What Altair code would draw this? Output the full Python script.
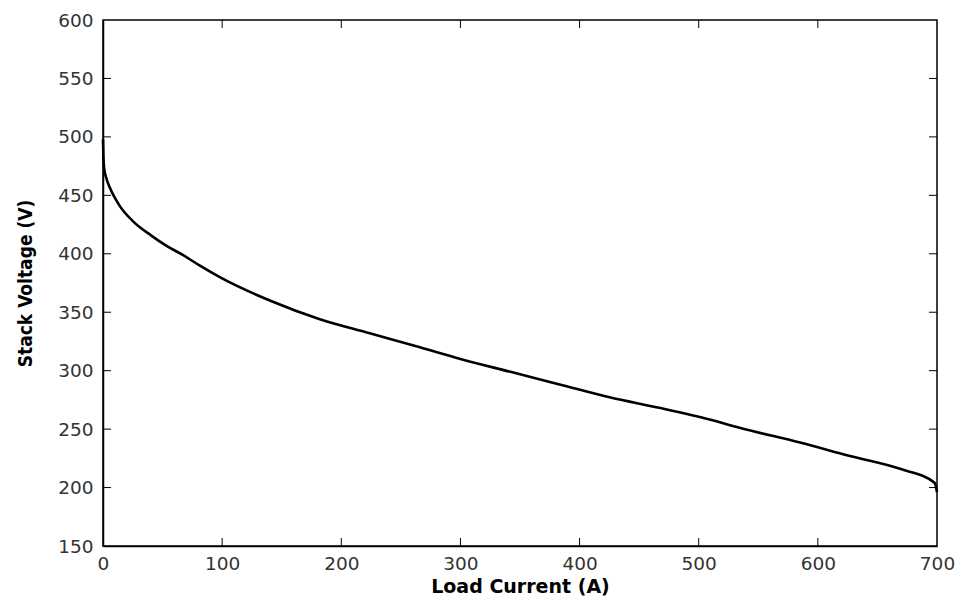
import altair as alt
import pandas as pd

# Load current (A) and stack voltage (V)
current = [0, 0.3, 1, 3, 6, 14, 25, 40, 53, 67, 81, 98, 140, 182, 224, 266,
           300, 342, 384, 426, 468, 510, 535, 585, 627, 669, 698, 700]
voltage = [498, 485, 473, 464, 456, 441, 428, 416, 407, 399, 390, 380, 360,
           344, 332, 320, 310, 299, 288, 277, 268, 258, 251, 238.5, 227, 216, 204, 196]

x_tick_values = [0, 100, 200, 300, 400, 500, 600, 700]
y_tick_values = [150, 200, 250, 300, 350, 400, 450, 500, 550, 600]
x_inner_ticks = [100, 200, 300, 400, 500, 600]
y_inner_ticks = [200, 250, 300, 350, 400, 450, 500, 550]

W, H = 834, 526
TICK = 8

df = pd.DataFrame({"I": current, "V": voltage})
dfx = pd.DataFrame({"I": x_inner_ticks})
dfy = pd.DataFrame({"V": y_inner_ticks})

xscale = alt.Scale(domain=[0, 700], nice=False, zero=False)
yscale = alt.Scale(domain=[150, 600], nice=False, zero=False)

label_font = "DejaVu Sans"

xaxis = alt.Axis(values=x_tick_values, tickSize=0, grid=False, labelFlush=False,
                 labelFont=label_font, labelFontSize=18.5, labelColor="#333333",
                 labelPadding=8, domainColor="black", domainWidth=1.5,
                 title="Load Current (A)", titleFont="DejaVu Sans",
                 titleFontSize=19, titleFontWeight="bold", titleColor="black",
                 titlePadding=5)
yaxis = alt.Axis(values=y_tick_values, tickSize=0, grid=False, labelFlush=False,
                 labelFont=label_font, labelFontSize=18.5, labelColor="#333333",
                 labelPadding=10, domainColor="black", domainWidth=1.5,
                 title="Stack Voltage (V)",
                 titleFont="Liberation Sans Narrow, DejaVu Sans Condensed, DejaVu Sans",
                 titleFontSize=19, titleFontWeight="bold", titleColor="black",
                 titlePadding=22)

line = alt.Chart(df).mark_line(color="black", strokeWidth=2.6, interpolate="monotone").encode(
    x=alt.X("I:Q", scale=xscale, axis=xaxis),
    y=alt.Y("V:Q", scale=yscale, axis=yaxis),
)

left_ticks = alt.Chart(dfy).mark_rule(color="black", strokeWidth=1).encode(
    y=alt.Y("V:Q", scale=yscale, axis=yaxis), x=alt.value(0), x2=alt.value(TICK))
right_ticks = alt.Chart(dfy).mark_rule(color="black", strokeWidth=1).encode(
    y=alt.Y("V:Q", scale=yscale, axis=yaxis), x=alt.value(W - TICK), x2=alt.value(W))
bottom_ticks = alt.Chart(dfx).mark_rule(color="black", strokeWidth=1).encode(
    x=alt.X("I:Q", scale=xscale, axis=xaxis), y=alt.value(H - TICK), y2=alt.value(H))
top_ticks = alt.Chart(dfx).mark_rule(color="black", strokeWidth=1).encode(
    x=alt.X("I:Q", scale=xscale, axis=xaxis), y=alt.value(0), y2=alt.value(TICK))

chart = alt.layer(line, left_ticks, right_ticks, bottom_ticks, top_ticks).properties(
    width=W, height=H,
    autosize=alt.AutoSizeParams(type="none"),
    padding={"left": 103, "top": 20, "right": 25, "bottom": 57},
    background="white",
).configure_view(stroke="black", strokeWidth=1.5)

chart.save("out.html", embed_options={"renderer": "svg", "actions": False})
